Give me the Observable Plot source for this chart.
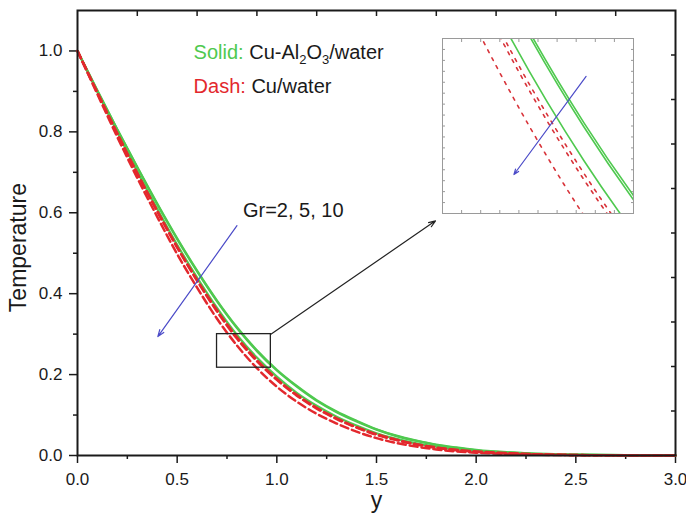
<!DOCTYPE html>
<html><head><meta charset="utf-8">
<script src="https://cdn.jsdelivr.net/npm/d3@7"></script>
<script src="https://cdn.jsdelivr.net/npm/@observablehq/plot@0.6"></script>
<style>
html,body{margin:0;padding:0;background:#fff;}
#wrap{position:relative;width:686px;height:516px;overflow:hidden;}
#inset{position:absolute;left:441px;top:37px;}
svg{display:block;}
</style></head><body>
<div id="wrap"><div id="main"></div><div id="inset"></div></div>
<script>
// ---- data ----
const yCoord = [0.0,0.1,0.2,0.3,0.4,0.5,0.6,0.7,0.8,0.9,1.0,1.1,1.2,1.3,1.4,1.5,1.6,1.7,1.8,1.9,2.0,2.25,2.5,2.75,3.0];
const solidGr2  = [1.000,0.902,0.806,0.713,0.623,0.537,0.457,0.383,0.317,0.260,0.212,0.172,0.137,0.109,0.086,0.065,0.049,0.037,0.027,0.020,0.014,0.006,0.0022,0.0007,0.0002];
const solidGr5  = [1.000,0.901,0.805,0.712,0.621,0.535,0.455,0.381,0.315,0.258,0.210,0.170,0.135,0.107,0.084,0.064,0.048,0.036,0.026,0.019,0.013,0.005,0.0020,0.0007,0.0002];
const solidGr10 = [1.000,0.898,0.799,0.702,0.610,0.521,0.440,0.365,0.298,0.242,0.195,0.155,0.123,0.096,0.074,0.055,0.041,0.030,0.022,0.015,0.011,0.004,0.0015,0.0005,0.0001];
const dashGr2   = [1.000,0.897,0.796,0.698,0.605,0.516,0.434,0.359,0.292,0.236,0.189,0.150,0.118,0.092,0.070,0.053,0.039,0.028,0.020,0.014,0.010,0.004,0.0012,0.0004,0.0001];
const dashGr5   = [1.000,0.896,0.795,0.696,0.603,0.514,0.432,0.356,0.289,0.233,0.187,0.148,0.116,0.090,0.069,0.051,0.038,0.027,0.019,0.013,0.009,0.0035,0.0011,0.0003,0.0001];
const dashGr10  = [1.000,0.893,0.787,0.686,0.590,0.498,0.415,0.338,0.272,0.216,0.170,0.133,0.103,0.079,0.059,0.043,0.031,0.022,0.015,0.010,0.007,0.0025,0.0007,0.0002,0.0001];
const grValues = [2, 5, 10];

const xMajor = [0, 0.5, 1.0, 1.5, 2.0, 2.5, 3.0];
const xTickLabels = ["0.0","0.5","1.0","1.5","2.0","2.5","3.0"];
const xMinor = [0.25, 0.75, 1.25, 1.75, 2.25, 2.75];
const yMajor = [0, 0.2, 0.4, 0.6, 0.8, 1.0];
const yTickLabels = ["0.0","0.2","0.4","0.6","0.8","1.0"];
const yMinor = [0.1, 0.3, 0.5, 0.7, 0.9];
const rightTicks = [0.11,0.22,0.33,0.44,0.55,0.66,0.77,0.88,0.99];
const topTicks = [0.3,0.6,0.9,1.2,1.5,1.8,2.1,2.4,2.7];

const xLabel = "y";
const yLabel = "Temperature";
const grLabel = "Gr=2, 5, 10";

// annotation geometry (data units)
const zoomBox = {x1: 0.70, x2: 0.97, y1: 0.217, y2: 0.30};
const grArrow = {x1: 0.80, y1: 0.568, x2: 0.403, y2: 0.294};
const leaderArrow = {x1: 0.97, y1: 0.30, x2: 1.796, y2: 0.580};
const insetArrow = {x1: 0.903, y1: 0.282, x2: 0.801, y2: 0.2355};
const grLabelPos = [0.83, 0.606];
const legendPos = [0.585, 0.979, 0.896];
const yLabelPos = [-0.296, 0.514];
const xLabelPos = [1.5, -0.112];

// ---- build table ----
const green = "#4fc94f", red = "#e3282d", blue = "#4b4bc8";
const font = "'Liberation Sans', Arial, Helvetica, sans-serif";
const rows = [];
const seriesList = [
  ["solid", 2, solidGr2], ["solid", 5, solidGr5], ["solid", 10, solidGr10],
  ["dash", 2, dashGr2], ["dash", 5, dashGr5], ["dash", 10, dashGr10]
];
for (const [style, gr, vals] of seriesList) {
  vals.forEach((v, i) => rows.push({y: yCoord[i], temp: v, style, gr, key: style + gr}));
}
const solidRows = rows.filter(d => d.style === "solid");
const dashRows = rows.filter(d => d.style === "dash");

const main = Plot.plot({
  width: 686, height: 516,
  marginLeft: 77, marginRight: 11, marginTop: 10, marginBottom: 61,
  style: {fontFamily: font, fontSize: "17px", color: "#1a1a1a", background: "#fff", overflow: "visible"},
  x: {domain: [0, 3], label: null},
  y: {domain: [0, 1.1], label: null},
  marks: [
    Plot.axisX(xMajor, {anchor: "bottom", tickSize: 8, tickPadding: 9, strokeWidth: 1.5, label: null, tickFormat: (d, i) => xTickLabels[i]}),
    Plot.axisX(xMinor, {anchor: "bottom", tickSize: 4, strokeWidth: 1.5, label: null, tickFormat: () => ""}),
    Plot.axisY(yMajor, {anchor: "left", tickSize: 8, tickPadding: 7, strokeWidth: 1.5, label: null, tickFormat: (d, i) => yTickLabels[i]}),
    Plot.axisY(yMinor, {anchor: "left", tickSize: 4, strokeWidth: 1.5, label: null, tickFormat: () => ""}),
    Plot.axisY(rightTicks, {anchor: "right", tickSize: 5, dx: -5, strokeWidth: 1.5, label: null, tickFormat: () => ""}),
    Plot.axisX(topTicks, {anchor: "top", tickSize: 5, dy: 5, strokeWidth: 1.5, label: null, tickFormat: () => ""}),
    Plot.line(solidRows, {x: "y", y: "temp", z: "key", stroke: green, strokeWidth: 2.2, curve: "monotone-x"}),
    Plot.line(dashRows, {x: "y", y: "temp", z: "key", stroke: red, strokeWidth: 2.5, strokeDasharray: "8,4", curve: "monotone-x"}),
    Plot.rect([zoomBox], {x1: "x1", x2: "x2", y1: "y1", y2: "y2", fill: "none", stroke: "#222", strokeWidth: 1.3}),
    Plot.arrow([leaderArrow], {x1: "x1", y1: "y1", x2: "x2", y2: "y2", stroke: "#222", strokeWidth: 1.2, headLength: 9, headAngle: 40}),
    Plot.arrow([grArrow], {x1: "x1", y1: "y1", x2: "x2", y2: "y2", stroke: blue, strokeWidth: 1.2, headLength: 9, headAngle: 40}),
    Plot.text([grLabel], {x: grLabelPos[0], y: grLabelPos[1], text: d => d, textAnchor: "start", fontSize: 20, fill: "#1a1a1a"}),
    Plot.text([yLabel], {x: yLabelPos[0], y: yLabelPos[1], text: d => d, rotate: -90, textAnchor: "middle", fontSize: 23, fill: "#1a1a1a"}),
    Plot.text([xLabel], {x: xLabelPos[0], y: xLabelPos[1], text: d => d, textAnchor: "middle", fontSize: 23, fill: "#1a1a1a"}),
    Plot.frame({stroke: "#1a1a1a", strokeWidth: 2})
  ]
});
document.getElementById("main").append(main);

// legend with subscripts, positioned through the plot scales
const sx = main.scale("x"), sy = main.scale("y");
const lg = d3.select(main).append("g").attr("font-family", font).attr("font-size", 20).attr("text-anchor", "start");
const t1 = lg.append("text").attr("x", sx.apply(legendPos[0])).attr("y", sy.apply(legendPos[1]));
t1.append("tspan").attr("fill", green).text("Solid: ");
t1.append("tspan").attr("fill", "#1a1a1a").text("Cu-Al");
t1.append("tspan").attr("fill", "#1a1a1a").attr("font-size", 13).attr("dy", 5).text("2");
t1.append("tspan").attr("fill", "#1a1a1a").attr("dy", -5).text("O");
t1.append("tspan").attr("fill", "#1a1a1a").attr("font-size", 13).attr("dy", 5).text("3");
t1.append("tspan").attr("fill", "#1a1a1a").attr("dy", -5).text("/water");
const t2 = lg.append("text").attr("x", sx.apply(legendPos[0])).attr("y", sy.apply(legendPos[2]));
t2.append("tspan").attr("fill", red).text("Dash: ");
t2.append("tspan").attr("fill", "#1a1a1a").text("Cu/water");

// ---- inset: magnified view of the boxed region ----
const insetXTicks = d3.range(0, 11).map(i => zoomBox.x1 + i * (zoomBox.x2 - zoomBox.x1) / 10);
const insetYTicks = d3.range(0, 17).map(i => zoomBox.y1 + i * (zoomBox.y2 - zoomBox.y1) / 16);
const inset = Plot.plot({
  width: 193, height: 177, margin: 1,
  style: {background: "#fff", overflow: "visible"},
  x: {domain: [zoomBox.x1, zoomBox.x2], label: null},
  y: {domain: [zoomBox.y1, zoomBox.y2], label: null},
  marks: [
    Plot.axisX(insetXTicks, {anchor: "bottom", tickSize: 3, dy: -3, stroke: "#999", label: null, tickFormat: () => ""}),
    Plot.axisX(insetXTicks, {anchor: "top", tickSize: 3, dy: 3, stroke: "#999", label: null, tickFormat: () => ""}),
    Plot.axisY(insetYTicks, {anchor: "left", tickSize: 3, dx: 3, stroke: "#999", label: null, tickFormat: () => ""}),
    Plot.axisY(insetYTicks, {anchor: "right", tickSize: 3, dx: -3, stroke: "#999", label: null, tickFormat: () => ""}),
    Plot.line(solidRows, {x: "y", y: "temp", z: "key", stroke: green, strokeWidth: 1.6, curve: "monotone-x", clip: true}),
    Plot.line(dashRows, {x: "y", y: "temp", z: "key", stroke: "#d8333a", strokeWidth: 1.6, strokeDasharray: "3,6", curve: "monotone-x", clip: true}),
    Plot.arrow([insetArrow], {x1: "x1", y1: "y1", x2: "x2", y2: "y2", stroke: blue, strokeWidth: 1.2, headLength: 7, headAngle: 40}),
    Plot.frame({stroke: "#9a9a9a", strokeWidth: 1})
  ]
});
document.getElementById("inset").append(inset);
</script>
</body></html>
